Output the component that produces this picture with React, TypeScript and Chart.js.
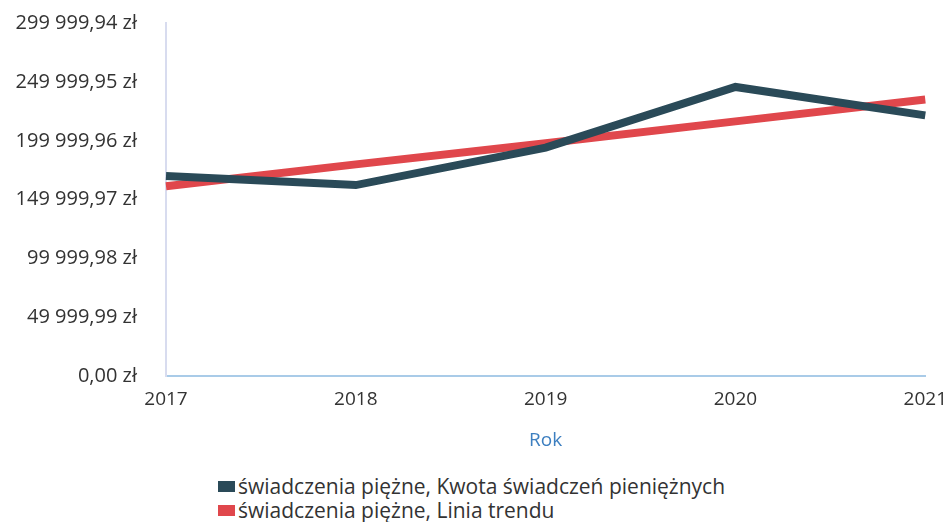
import React, { useEffect, useRef } from "react";
import { Chart, registerables } from "chart.js";

Chart.register(...registerables);

const years = ["2017", "2018", "2019", "2020", "2021"];
const amounts = [170100, 162400, 194200, 245700, 221600];
const trend = [161500, 180000, 198000, 216500, 235000];
const yTicks = [0, 49999.99, 99999.98, 149999.97, 199999.96, 249999.95, 299999.94];
const seriesNames = [
  "świadczenia piężne, Kwota świadczeń pieniężnych",
  "świadczenia piężne, Linia trendu",
];
const colors = ["#2a4a58", "#e0474c"];

const FONT = "'Open Sans', 'Noto Sans', sans-serif";

function fmt(v: number): string {
  const fixed = v.toFixed(2);
  const [intPart, dec] = fixed.split(".");
  const grouped = intPart.replace(/\B(?=(\d{3})+(?!\d))/g, " ");
  return grouped + "," + dec + " zł";
}

export default function App() {
  const ref = useRef<HTMLCanvasElement | null>(null);
  useEffect(() => {
    document.body.style.margin = "0";
    const ctx = ref.current!;
    const chart = new Chart(ctx, {
      type: "line",
      data: {
        labels: years,
        datasets: [
          {
            label: seriesNames[0],
            data: amounts,
            borderColor: colors[0],
            backgroundColor: colors[0],
            borderWidth: 8,
            pointRadius: 0,
            tension: 0,
          },
          {
            label: seriesNames[1],
            data: trend,
            borderColor: colors[1],
            backgroundColor: colors[1],
            borderWidth: 8,
            pointRadius: 0,
            tension: 0,
          },
        ],
      },
      options: {
        animation: false,
        responsive: false,
        layout: { padding: { top: 0, right: 25, left: 0, bottom: 0 } },
        plugins: { legend: { display: false }, tooltip: { enabled: false } },
        scales: {
          x: {
            type: "category",
            offset: false,
            grid: { display: false },
            border: { color: "#a9cbe8", width: 2 },
            ticks: {
              color: "#333",
              font: { family: FONT, size: 19 },
              padding: 4,
              maxRotation: 0,
            },
            title: {
              display: true,
              text: "Rok",
              color: "#3d7fc0",
              font: { family: FONT, size: 19 },
              padding: { top: 14, bottom: 0 },
            },
          },
          y: {
            min: 0,
            max: 299999.94,
            grid: { display: false },
            border: { color: "#d8dcef", width: 2 },
            afterBuildTicks: (scale: any) => {
              scale.ticks = yTicks.map((v) => ({ value: v }));
            },
            afterFit: (scale: any) => {
              scale.width = 166;
            },
            ticks: {
              color: "#333",
              font: { family: FONT, size: 20 },
              padding: 21,
              callback: (v: any) => fmt(Number(v)),
            },
          },
        },
      },
    });
    return () => chart.destroy();
  }, []);

  return (
    <div style={{ position: "relative", width: 951, height: 522, background: "#fff", overflow: "hidden" }}>
      <canvas
        ref={ref}
        width={951}
        height={462}
        style={{ display: "block", position: "absolute", left: 0, top: -10 }}
      />
      <div
        style={{
          position: "absolute",
          left: 218,
          top: 474,
          fontFamily: FONT,
          fontSize: 21,
          color: "#333",
          lineHeight: "24px",
        }}
      >
        {seriesNames.map((n, i) => (
          <div key={n} style={{ display: "flex", alignItems: "center" }}>
            <span
              style={{
                display: "inline-block",
                width: 17,
                height: 11,
                background: colors[i],
                marginRight: 3,
              }}
            />
            <span>{n}</span>
          </div>
        ))}
      </div>
    </div>
  );
}
